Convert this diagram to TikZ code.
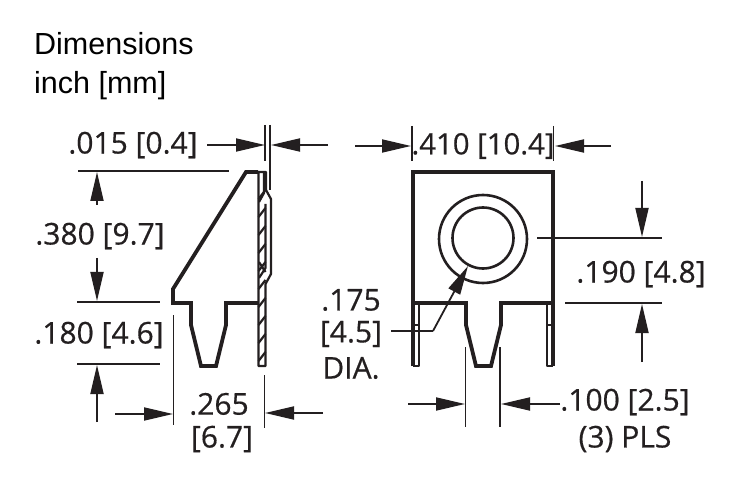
\documentclass[tikz,border=0pt]{standalone}
\usepackage{fontspec}
\setmainfont{Open Sans}[RawFeature={embolden=0.5}]
\newfontfamily\headfont{Liberation Sans}
\usetikzlibrary{arrows.meta}
\definecolor{inkline}{HTML}{231F20}
\tikzset{
  outline/.style={line width=3.8pt,draw=inkline,line join=miter},
  thinplate/.style={line width=2.2pt,draw=inkline},
  dimline/.style={line width=1.8pt,draw=inkline},
  dimarrow/.style={dimline,-{Triangle[length=29pt,width=13pt]}},
  dimtext/.style={font=\fontsize{30}{32}\selectfont,text=inkline,inner sep=0pt,anchor=center},
  headtext/.style={font=\headfont\fontsize{30.5}{32}\selectfont,text=black,inner sep=0pt,anchor=west}
}
\begin{document}
\begin{tikzpicture}[x=1pt,y=-1pt,line join=round]
\useasboundingbox (0,0) rectangle (756,500);
\node[headtext] (headA) at (34,44) {Dimensions};
\node[headtext] (headB) at (34,86) {inch [mm]};
\node[dimtext] (dimA) at (133,145) {.015 [0.4]};
\node[dimtext] (dimB) at (100,236) {.380 [9.7]};
\node[dimtext] (dimC) at (99,335) {.180 [4.6]};
\node[dimtext] (dimD) at (219,404) {.265};
\node[dimtext] (dimE) at (222,439) {[6.7]};
\node[dimtext,font=\fontsize{29.3}{32}\selectfont] (dimF) at (483,146) {.410 [10.4]};
\node[dimtext] (dimG) at (641,274) {.190 [4.8]};
\node[dimtext] (dimH) at (351,300) {.175};
\node[dimtext] (dimI) at (351,334) {[4.5]};
\node[dimtext] (dimJ) at (351,368) {DIA.};
\node[dimtext] (dimK) at (625,402) {.100 [2.5]};
\node[dimtext] (dimL) at (625,439) {(3) PLS};
% side view
\draw[outline](258,172)--(246,172)--(173,289)--(173,303)--(191,303)--(191,325)--(201,366)--(216,366)--(226,325)--(226,303)--(258,303);
\draw[thinplate](246,172)--(266,172)--(266,190)--(271,199)--(271,274)--(265.5,284)--(265.5,366)--(258.5,366)--(258.5,172);
\draw[thinplate](264,172)--(264,193)--(259,202);
\draw[thinplate](265.5,204)--(265.5,268)--(259,278);
\draw[thinplate](259,262)--(265.5,272);
\foreach \hy in {194,212,230,248,266,284,302,320,338,356}
  \draw[thinplate](258.5,\hy+5)--(265.5,\hy-4);
% front view
\draw[outline](413,366)--(413,172)--(553,172)--(553,366);
\draw[outline](413,303)--(466,303)--(466,325)--(476,366)--(491,366)--(501,325)--(501,303)--(553,303);
\draw[thinplate](413,366)--(419,366)--(419,303);
\draw[thinplate](553,366)--(547,366)--(547,303);
\draw[dimline](413,325)--(419,325);
\draw[dimline](547,325)--(553,325);
\draw[line width=2.6pt,draw=inkline](483,239) circle[radius=44];
\draw[line width=2.6pt,draw=inkline](483,238) circle[radius=30.5];
% dimension lines
\draw[dimline](265,125)--(265,161);
\draw[dimline](270,125)--(270,190);
\draw[dimline](78,171)--(229,171);
\draw[dimline](77,302)--(160,302);
\draw[dimline](77,364)--(160,364);
\draw[dimline](173.5,315)--(173.5,425);
\draw[dimline](264.5,375)--(264.5,428);
\draw[dimline](412,126)--(412,161);
\draw[dimline](553.5,126)--(553.5,161);
\draw[dimline](537,238)--(662,238);
\draw[dimline](565,303)--(662,303);
\draw[dimline](465.5,347)--(465.5,427);
\draw[dimline](500,347)--(500,427);
\draw[dimline](391,331)--(433,331);
\foreach \ax/\ay/\bx/\by in {207/145/265/145,328/145/271/145,97/205/97/172,97/258/97/301,97/422/97/365,115/414/173/414,323/413/265/413,355/146/411/146,611/146/555/146,642/181/642/237,642/362/642/304,408/404/465/404,560/404/501/404,433/331/468/266}
  \draw[dimarrow](\ax,\ay)--(\bx,\by);
\end{tikzpicture}
\end{document}
